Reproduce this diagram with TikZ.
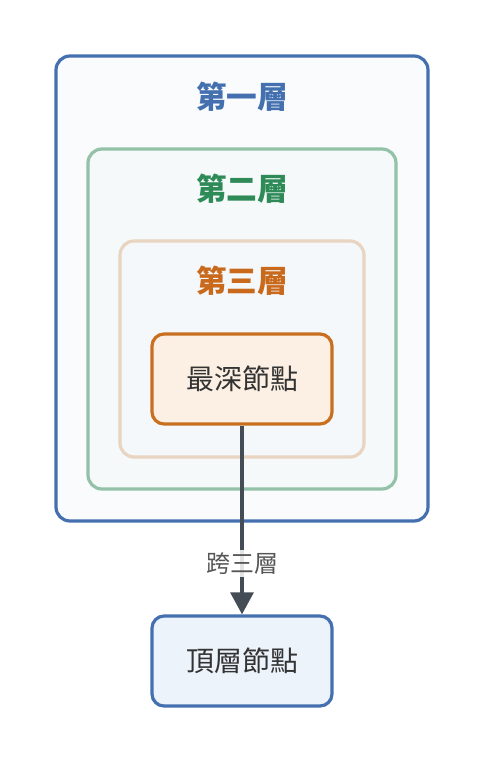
\documentclass[tikz,border=0pt]{standalone}
\usepackage{fontspec}
\setmainfont{Noto Sans CJK TC}
\usetikzlibrary{arrows.meta}
\definecolor{blueB}{HTML}{4470B0}
\definecolor{blueF}{HTML}{F9FBFD}
\definecolor{greenB}{HTML}{93C2A8}
\definecolor{greenF}{HTML}{F5F9F9}
\definecolor{greenT}{HTML}{2E8A57}
\definecolor{beigeB}{HTML}{E8D4C0}
\definecolor{beigeF}{HTML}{F5F8FA}
\definecolor{orangeB}{HTML}{C8701F}
\definecolor{orangeF}{HTML}{FCEFE3}
\definecolor{orangeT}{HTML}{C8691C}
\definecolor{topF}{HTML}{EDF3FB}
\definecolor{arrowC}{HTML}{444C55}
\definecolor{textC}{HTML}{333333}
\definecolor{labelC}{HTML}{555555}
\begin{document}
\begin{tikzpicture}[x=0.75pt,y=-0.75pt,
  layerbox/.style={line width=2.4pt, rounded corners=10.5pt},
  layertitle/.style={font=\fontsize{23}{27}\selectfont\bfseries, inner sep=0pt},
  nodebox/.style={line width=2.4pt, rounded corners=9pt, minimum width=135pt, minimum height=67.5pt, inner sep=0pt, font=\fontsize{21}{25}\selectfont, text=textC},
  edgelabel/.style={font=\fontsize{18}{22}\selectfont, text=labelC, fill=white, fill opacity=0.85, text opacity=1, inner sep=2pt}
]
\useasboundingbox (0,0) rectangle (484,764);
\draw[layerbox, draw=blueB, fill=blueF] (56,56) rectangle (428,521);
\node[layertitle, text=blueB] (t1) at (242,97) {第一層};
\draw[layerbox, draw=greenB, fill=greenF] (88,149) rectangle (396,489);
\node[layertitle, text=greenT] (t2) at (242,189) {第二層};
\draw[layerbox, draw=beigeB, fill=beigeF] (120,241) rectangle (364,457);
\node[layertitle, text=orangeT] (t3) at (242,281) {第三層};
\node[nodebox, draw=orangeB, fill=orangeF] (deep) at (242,379) {最深節點};
\node[nodebox, draw=blueB, fill=topF] (top) at (242,661) {頂層節點};
\draw[line width=3pt, draw=arrowC, -{Triangle[length=16.5pt,width=17pt]}] (deep.south) -- (top.north)
  node[edgelabel, pos=0.73] (lbl) {跨三層};
\end{tikzpicture}
\end{document}
